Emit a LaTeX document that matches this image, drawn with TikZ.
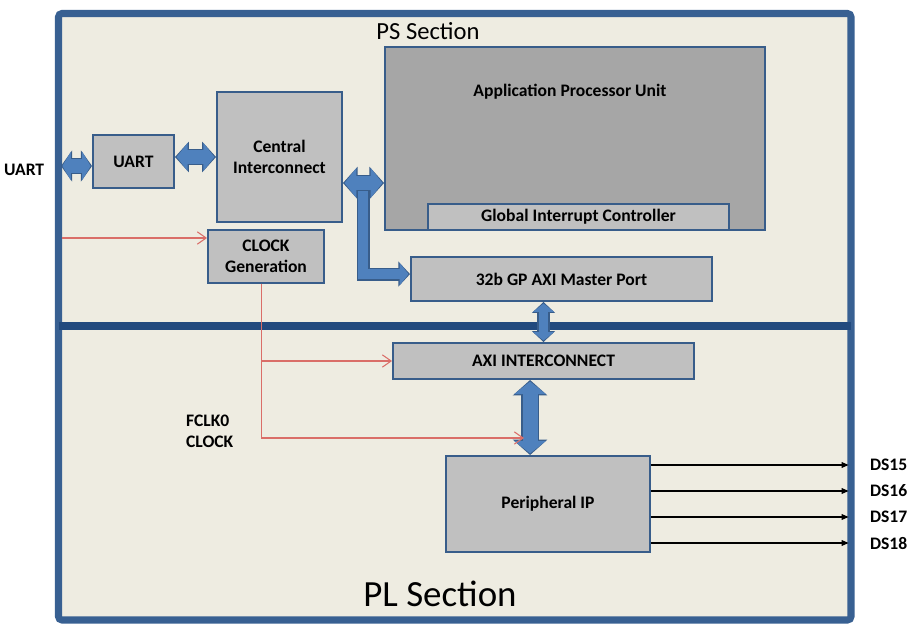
\documentclass[tikz,border=0pt]{standalone}
\usepackage{fontspec}
\setmainfont{Carlito}
\usepackage{xcolor}
\definecolor{FrameBlue}{RGB}{56,96,146}
\definecolor{SplitBlue}{RGB}{34,74,126}
\definecolor{BoxLine}{RGB}{56,93,138}
\definecolor{BoxGray}{RGB}{192,192,192}
\definecolor{BoxDark}{RGB}{166,166,166}
\definecolor{PaperBeige}{RGB}{238,236,225}
\definecolor{BusFill}{RGB}{79,129,189}
\definecolor{BusLine}{RGB}{56,93,138}
\definecolor{ClockRed}{RGB}{218,110,104}
\usetikzlibrary{arrows.meta, positioning}
\tikzset{
  % outer frame and PS/PL split
  psframe/.style={draw=FrameBlue, line width=4pt, fill=PaperBeige, rounded corners=2pt},
  splitline/.style={draw=SplitBlue, line width=4.5pt},
  % blocks
  blk/.style={
    rectangle, draw=BoxLine, line width=1.1pt,
    fill=BoxGray, align=center, inner sep=2pt,
    font=\bfseries\fontsize{10}{12}\selectfont
  },
  blk dark/.style={blk, fill=BoxDark},
  % texts
  lbl/.style={font=\bfseries\fontsize{10}{12}\selectfont, inner sep=1pt},
  sectitle/.style={font=\fontsize{14}{16}\selectfont, inner sep=1pt},
  sectitle big/.style={font=\fontsize{21}{25}\selectfont, inner sep=1pt},
  % block (bus) arrows, #1 = shaft width
  bus/.style={
    draw=BusFill, line width=#1, line join=miter,
    {Triangle[length=0pt 0.85, width=0pt 2.1]}-{Triangle[length=0pt 0.85, width=0pt 2.1]},
    shorten <=0.9pt, shorten >=0.9pt,
    preaction={draw=BusLine, line width=#1+1.4pt, shorten <=0pt, shorten >=0pt,
      {Triangle[length=0.41pt 0.85, width=-1.54pt 2.1]}-{Triangle[length=0.41pt 0.85, width=-1.54pt 2.1]}}
  },
  % same with short heads
  bus stub/.style={
    draw=BusFill, line width=#1, line join=miter,
    {Triangle[length=0pt 0.6, width=0pt 2.0]}-{Triangle[length=0pt 0.6, width=0pt 2.0]},
    shorten <=0.8pt, shorten >=0.8pt,
    preaction={draw=BusLine, line width=#1+1.4pt, shorten <=0pt, shorten >=0pt,
      {Triangle[length=0.67pt 0.6, width=-1.4pt 2.0]}-{Triangle[length=0.67pt 0.6, width=-1.4pt 2.0]}}
  },
  bus end/.style={
    draw=BusFill, line width=#1, line join=miter,
    -{Triangle[length=0pt 0.85, width=0pt 2.1]},
    shorten >=0.9pt,
    preaction={draw=BusLine, line width=#1+1.4pt, shorten >=0pt,
      -{Triangle[length=0.41pt 0.85, width=-1.54pt 2.1]}}
  },
  % thin connectors
  clkline/.style={draw=ClockRed, line width=0.6pt, -{Straight Barb[length=5pt, width=7pt]}},
  sig/.style={draw=black, line width=0.8pt, -{Triangle[length=4pt, width=3.2pt]}},
}

\begin{document}
\begin{tikzpicture}[x=0.02cm, y=-0.02cm]
  \useasboundingbox (0,0) rectangle (913,635);

  % frame with PS / PL sections
  \draw[psframe] (58.5,13.5) rectangle (851,620);
  \draw[splitline] (58.5,326) -- (851,326);
  \node[sectitle] (pstitle) at (428,31) {PS Section};
  \node[sectitle big] (pltitle) at (440,594) {PL Section};

  %% PS blocks
  \node[blk, minimum width=1.62cm, minimum height=1.06cm] (uart) at (133.5,161.5) {UART};
  \node[blk, minimum width=2.5cm, minimum height=2.6cm] (ci) at (279.5,157) {Central\\Interconnect};
  \node[blk, minimum width=2.32cm, minimum height=1.06cm] (clk) at (266,256.5) {CLOCK\\Generation};
  \node[blk dark, minimum width=7.6cm, minimum height=3.66cm] (apu) at (575,138.5) {};
  \node[lbl] (apulbl) at (570,92) {Application Processor Unit};
  \node[blk, minimum width=6.02cm, minimum height=0.52cm, inner sep=1pt,
        above=0pt of apu.south, xshift=2pt] (gic) {Global Interrupt Controller};
  \node[blk, minimum width=6.02cm, minimum height=0.88cm] (gp) at (561.5,279) {32b GP AXI Master Port};

  %% PL blocks
  \node[blk, minimum width=6.02cm, minimum height=0.72cm] (axi) at (543.5,361) {AXI INTERCONNECT};
  \node[blk, minimum width=4.08cm, minimum height=1.92cm] (pip) at (548,504) {Peripheral IP};

  %% outside labels
  \node[lbl, anchor=west] (uartlbl) at (2,170) {UART};
  \node[lbl, align=left, anchor=west] (fclk) at (184,431) {FCLK0\\CLOCK};

  %% bus arrows
  \coordinate (uartext) at (61,166);
  \coordinate (jn) at (363,183);
  \draw[bus stub=8pt] (uartext) -- (uartext -| uart.west);
  \draw[bus=7.5pt] (uart.east |- ci.west) -- (ci.west);
  \draw[bus end=6pt] (jn) |- ([yshift=2.8pt]gp.west);
  \draw[bus=8pt] (ci.east |- jn) -- (apu.west |- jn);
  \draw[bus=5.5pt] (axi.north) -- (axi.north |- gp.south);
  \draw[bus=8.5pt] ([xshift=-10.2pt]pip.north |- axi.south) -- ([xshift=-10.2pt]pip.north);

  %% clock lines
  \coordinate (clkref) at (62,238);
  \coordinate (fclkend) at (524,438);
  \draw[clkline] (clkref) -- (clkref -| clk.west);
  \draw[clkline] ([xshift=-2.3pt]clk.south) |- (axi.west);
  \draw[clkline] ([xshift=-2.3pt]clk.south) |- (fclkend);

  %% LED outputs
  \foreach \ds/\yy in {15/465, 16/491, 17/517, 18/543} {
    \node[lbl, anchor=west] (ds\ds) at (868,\yy) {DS\ds};
    \draw[sig, shorten >=11pt] (pip.east |- ds\ds.west) -- (ds\ds.west);
  }

\end{tikzpicture}
\end{document}
